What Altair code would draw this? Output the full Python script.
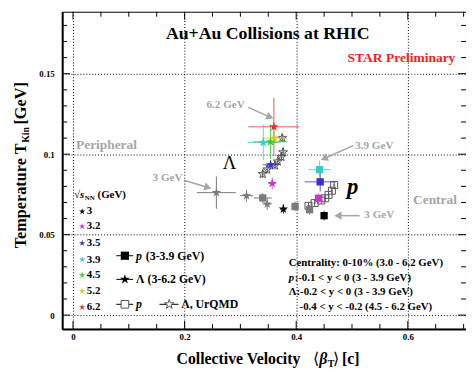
import altair as alt
import pandas as pd

# ---------------- data ----------------
# STAR protons, 0-10% (3, 3.2, 3.5, 3.9 GeV)
p_energy = ["3", "3.2", "3.5", "3.9"]
p_beta = [0.450, 0.440, 0.443, 0.442]
p_temp = [0.0618, 0.0726, 0.0828, 0.0904]
p_beta_err = [0.004, 0.006, 0.028, 0.020]
p_temp_err = [0.003, 0.003, 0.006, 0.0055]

# STAR Lambda, 0-10% (3 - 6.2 GeV)
l_energy = ["3", "3.2", "3.5", "3.9", "4.5", "5.2", "6.2"]
l_beta = [0.377, 0.357, 0.354, 0.341, 0.354, 0.361, 0.360]
l_temp = [0.0659, 0.0818, 0.0934, 0.1073, 0.1077, 0.1100, 0.1170]
l_beta_err = [0.006, 0.007, 0.014, 0.028, 0.030, 0.022, 0.046]
l_temp_err = [0.003, 0.0036, 0.003, 0.011, 0.0107, 0.004, 0.018]

# 3 GeV, other centralities (peripheral -> central), gray
gp_beta = [0.340, 0.398, 0.424]
gp_temp = [0.0728, 0.0675, 0.0655]
gp_beta_err = [0.016, 0.006, 0.006]
gp_temp_err = [0.003, 0.003, 0.003]
gl_beta = [0.257, 0.311, 0.348]
gl_temp = [0.0761, 0.0742, 0.0690]
gl_beta_err = [0.035, 0.012, 0.008]
gl_temp_err = [0.010, 0.0037, 0.0036]

# UrQMD
up_beta = [0.422, 0.433, 0.445, 0.452, 0.458, 0.464, 0.468]
up_temp = [0.0679, 0.0696, 0.0712, 0.0726, 0.0747, 0.0773, 0.0808]
ul_beta = [0.340, 0.348, 0.362, 0.367, 0.3735, 0.3765, 0.375]
ul_temp = [0.0877, 0.0905, 0.0930, 0.0955, 0.0983, 0.1012, 0.1100]

# axis ticks
x_major = [0, 0.2, 0.4, 0.6]
x_minor = [0.05, 0.1, 0.15, 0.25, 0.3, 0.35, 0.45, 0.5, 0.55, 0.65, 0.7]
y_major = [0, 0.05, 0.1, 0.15]
y_minor = [0.01, 0.02, 0.03, 0.04, 0.06, 0.07, 0.08, 0.09, 0.11, 0.12,
           0.13, 0.14, 0.16, 0.17, 0.18]

# ---------------- styles ----------------
energy_colors = {"3": "#000000", "3.2": "#cc33cc", "3.5": "#3333cc",
                 "3.9": "#33cccc", "4.5": "#33cc33", "5.2": "#cccc33",
                 "6.2": "#dd3333"}
GRAY = "#7a7a7a"
ANN = "#a6a6a6"
SERIF = "Liberation Serif"
STAR = ("M0,-1L0.225,-0.309L0.951,-0.309L0.363,0.118L0.588,0.809L0,0.382"
        "L-0.588,0.809L-0.363,0.118L-0.951,-0.309L-0.225,-0.309Z")
W, H = 410, 322

xs = alt.Scale(domain=[-0.0194, 0.7043], nice=False, zero=False)
ys = alt.Scale(domain=[-0.00857, 0.1885], nice=False, zero=False)

xaxis = alt.Axis(values=x_major, format="~g", title=None, ticks=False,
                 tickSize=0, labelFont=SERIF, labelFontWeight="bold",
                 labelFontSize=9, labelColor="black", labelPadding=4,
                 domainColor="black", domainWidth=2, grid=True,
                 gridColor="black", gridDash=[1, 2], gridWidth=1,
                 gridOpacity=1)
yaxis = alt.Axis(values=y_major, format="~g", title=None, ticks=False,
                 tickSize=0, labelFont=SERIF, labelFontWeight="bold",
                 labelFontSize=9, labelColor="black", labelPadding=8,
                 domainColor="black", domainWidth=2, grid=True,
                 gridColor="black", gridDash=[1, 2], gridWidth=1,
                 gridOpacity=1)


def X(f):
    return alt.X(f, type="quantitative", scale=xs, axis=xaxis)


def Y(f):
    return alt.Y(f, type="quantitative", scale=ys, axis=yaxis)


def frame(e, x, y, xe, ye, color):
    df = pd.DataFrame({"e": e, "x": x, "y": y, "xe": xe, "ye": ye})
    df["xlo"] = df.x - df.xe
    df["xhi"] = df.x + df.xe
    df["ylo"] = df.y - df.ye
    df["yhi"] = df.y + df.ye
    if color is None:
        df["color"] = df.e.map(energy_colors)
    else:
        df["color"] = color
    return df


sp = frame(p_energy, p_beta, p_temp, p_beta_err, p_temp_err, None)
sl = frame(l_energy, l_beta, l_temp, l_beta_err, l_temp_err, None)
gp = frame(["g"] * 3, gp_beta, gp_temp, gp_beta_err, gp_temp_err, GRAY)
gl = frame(["g"] * 3, gl_beta, gl_temp, gl_beta_err, gl_temp_err, GRAY)
up = frame(["u"] * 7, up_beta, up_temp, [0.002] * 7, [0.002] * 7, "#555555")
ul = frame(["u"] * 7, ul_beta, ul_temp, [0.002] * 7, [0.0025] * 7, "#555555")

layers = []


# inward ticks on all four sides
def ticks(vals, length, side):
    df = pd.DataFrame({"v": vals})
    c = alt.Chart(df).mark_rule(color="black", strokeWidth=1)
    if side == "bottom":
        return c.encode(x=X("v"), y=alt.value(H), y2=alt.value(H - length))
    if side == "top":
        return c.encode(x=X("v"), y=alt.value(0), y2=alt.value(length))
    if side == "left":
        return c.encode(y=Y("v"), x=alt.value(0), x2=alt.value(length))
    return c.encode(y=Y("v"), x=alt.value(W), x2=alt.value(W - length))


for side in ["bottom", "top"]:
    layers.append(ticks(x_major, 8, side))
    layers.append(ticks(x_minor, 5, side))
for side in ["left", "right"]:
    layers.append(ticks(y_major, 8, side))
    layers.append(ticks(y_minor, 5, side))


def errbars(df, width=1, opacity=1.0):
    c = alt.Chart(df)
    h = c.mark_rule(strokeWidth=width, opacity=opacity).encode(
        x=X("xlo"), x2=alt.X2("xhi"), y=Y("y"),
        color=alt.Color("color:N", scale=None))
    v = c.mark_rule(strokeWidth=width, opacity=opacity).encode(
        y=Y("ylo"), y2=alt.Y2("yhi"), x=X("x"),
        color=alt.Color("color:N", scale=None))
    return [h, v]


# UrQMD
layers += errbars(up)
layers += errbars(ul)
layers.append(alt.Chart(up).mark_point(shape="square", size=50, filled=False,
                                       strokeWidth=1, color="#555555",
                                       opacity=1).encode(x=X("x"), y=Y("y")))
layers.append(alt.Chart(ul).mark_point(shape=STAR, size=90, filled=False,
                                       strokeWidth=1, color="#555555",
                                       opacity=1).encode(x=X("x"), y=Y("y")))
# gray (other centralities at 3 GeV)
layers += errbars(gp)
layers += errbars(gl)
layers.append(alt.Chart(gp).mark_point(shape="square", size=55, filled=True,
                                       color=GRAY, opacity=1).encode(
    x=X("x"), y=Y("y")))
layers.append(alt.Chart(gl).mark_point(shape=STAR, size=100, filled=True,
                                       color=GRAY, opacity=1).encode(
    x=X("x"), y=Y("y")))
# STAR data
layers += errbars(sp, 1, 0.8)
layers += errbars(sl, 1, 0.8)
layers.append(alt.Chart(sp).mark_point(shape="square", size=55, filled=True,
                                       opacity=1).encode(
    x=X("x"), y=Y("y"), color=alt.Color("color:N", scale=None)))
layers.append(alt.Chart(sl).mark_point(shape=STAR, size=100, filled=True,
                                       opacity=1).encode(
    x=X("x"), y=Y("y"), color=alt.Color("color:N", scale=None)))

# ---------------- arrows ----------------
arrows = pd.DataFrame({
    "x": [0.3142, 0.502, 0.199, 0.5137],
    "y": [0.1291, 0.1053, 0.0838, 0.0618],
    "x2": [0.353, 0.450, 0.2418, 0.4748],
    "y2": [0.1230, 0.0973, 0.0793, 0.0618],
    "ang": [114, 246, 107, 270],
})
layers.append(alt.Chart(arrows).mark_rule(color=ANN, strokeWidth=1.5).encode(
    x=X("x"), y=Y("y"), x2=alt.X2("x2"), y2=alt.Y2("y2")))
layers.append(alt.Chart(arrows).mark_point(shape="triangle-up", size=70,
                                           filled=True, color=ANN,
                                           opacity=1).encode(
    x=X("x2"), y=Y("y2"), angle=alt.Angle("ang:Q", scale=None)))


def txt(rows, **kw):
    df = pd.DataFrame(rows, columns=["x", "y", "t"])
    base = dict(font=SERIF, fontWeight="bold", baseline="middle")
    base.update(kw)
    return alt.Chart(df).mark_text(**base).encode(x=X("x"), y=Y("y"),
                                                  text="t:N")


layers.append(txt([(0.349, 0.1744, "Au+Au Collisions at RHIC")],
                  fontSize=18, color="black", align="center"))
layers.append(txt([(0.5887, 0.1597, "STAR Preliminary")], fontSize=13.7,
                  color="#ee2222", align="center"))
layers.append(txt([(0.2736, 0.1304, "6.2 GeV"), (0.540, 0.1053, "3.9 GeV"),
                   (0.1695, 0.0851, "3 GeV"), (0.549, 0.0620, "3 GeV")],
                  fontSize=11.3, color=ANN, align="center"))
layers.append(txt([(0.060, 0.1059, "Peripheral"), (0.6487, 0.0716, "Central")],
                  fontSize=13.6, color=ANN, align="center"))
layers.append(txt([(0.2807, 0.0944, "Λ")], fontSize=19, fontWeight="normal",
                  color="black", align="center"))
layers.append(txt([(0.5013, 0.0797, "p")], fontSize=23, fontStyle="italic",
                  color="black", align="center"))
# centrality / rapidity block
layers.append(txt([(0.3866, 0.0324, "Centrality: 0-10% (3.0 - 6.2 GeV)"),
                   (0.3972, 0.0231, ":-0.1 < y < 0 (3 - 3.9 GeV)"),
                   (0.3866, 0.0145, "Λ:-0.2 < y < 0 (3 - 3.9 GeV)"),
                   (0.406, 0.0047, "-0.4 < y < -0.2 (4.5 - 6.2 GeV)")],
                  fontSize=11, color="black", align="left"))
layers.append(txt([(0.3866, 0.0231, "p")], fontSize=11, fontStyle="italic",
                  color="black", align="left"))

# ---------------- legend 1: energies ----------------
leg1 = pd.DataFrame({
    "e": l_energy,
    "x": [0.0164] * 7,
    "xt": [0.0247] * 7,
    "y": [0.0644, 0.0551, 0.0447, 0.0345, 0.0247, 0.0149, 0.0049],
})
leg1["color"] = leg1.e.map(energy_colors)
layers.append(alt.Chart(leg1).mark_point(shape=STAR, size=45, filled=True,
                                         opacity=1).encode(
    x=X("x"), y=Y("y"), color=alt.Color("color:N", scale=None)))
layers.append(alt.Chart(leg1).mark_text(font=SERIF, fontWeight="bold",
                                        fontSize=11, align="left",
                                        baseline="middle",
                                        color="black").encode(
    x=X("xt"), y=Y("y"), text="e:N"))
layers.append(txt([(0.0018, 0.0747, "√s")], fontSize=11, color="black",
                  align="left", fontStyle="italic"))
layers.append(txt([(0.0210, 0.0727, "NN")], fontSize=7, color="black",
                  align="left"))
layers.append(txt([(0.0440, 0.0747, "(GeV)")], fontSize=11, color="black",
                  align="left"))

# ---------------- legend 2: species ----------------
leg2_lines = pd.DataFrame({"x": [0.0777, 0.0777, 0.0777, 0.155],
                           "x2": [0.1077, 0.1077, 0.1077, 0.189],
                           "y": [0.0369, 0.0222, 0.0067, 0.0067]})
layers.append(alt.Chart(leg2_lines).mark_rule(color="black").encode(
    x=X("x"), x2=alt.X2("x2"), y=Y("y")))
leg2_sq = pd.DataFrame({"x": [0.093], "y": [0.0369]})
layers.append(alt.Chart(leg2_sq).mark_point(shape="square", size=70,
                                            filled=True, color="black",
                                            opacity=1).encode(
    x=X("x"), y=Y("y")))
leg2_st = pd.DataFrame({"x": [0.093], "y": [0.0222]})
layers.append(alt.Chart(leg2_st).mark_point(shape=STAR, size=110,
                                            filled=True, color="black",
                                            opacity=1).encode(
    x=X("x"), y=Y("y")))
leg2_osq = pd.DataFrame({"x": [0.093], "y": [0.0067]})
layers.append(alt.Chart(leg2_osq).mark_point(shape="square", size=60,
                                             filled=False, fill="white",
                                             color="#555555", opacity=1,
                                             strokeWidth=1).encode(
    x=X("x"), y=Y("y")))
leg2_ost = pd.DataFrame({"x": [0.1725], "y": [0.0067]})
layers.append(alt.Chart(leg2_ost).mark_point(shape=STAR, size=100,
                                             filled=False, fill="white",
                                             color="#555555", opacity=1,
                                             strokeWidth=1).encode(
    x=X("x"), y=Y("y")))
layers.append(txt([(0.113, 0.0369, "p"), (0.113, 0.0067, "p")], fontSize=12,
                  fontStyle="italic", color="black", align="left"))
layers.append(txt([(0.1305, 0.0369, "(3-3.9 GeV)"),
                   (0.113, 0.0222, "Λ (3-6.2 GeV)"),
                   (0.194, 0.0067, "Λ, UrQMD")], fontSize=12,
                  color="black", align="left"))


# ---------------- axis titles (outside plot area) ----------------
def ptxt(t, px, py, **kw):
    df = pd.DataFrame({"t": [t]})
    base = dict(font=SERIF, fontWeight="bold", baseline="middle",
                align="center", color="black")
    base.update(kw)
    return alt.Chart(df).mark_text(**base).encode(
        x=alt.value(px), y=alt.value(py), text="t:N")


layers.append(ptxt("Temperature T", -42, 187, fontSize=16.5, angle=270))
layers.append(ptxt("Kin", -37, 125, fontSize=10, angle=270))
layers.append(ptxt("[GeV]", -42, 93, fontSize=16.5, angle=270))
layers.append(ptxt("Collective Velocity", 179, 352.7, fontSize=16))
layers.append(ptxt("⟨", 258, 352.7, fontSize=16, fontWeight="normal"))
layers.append(ptxt("β", 265, 352.7, fontSize=16, fontStyle="italic"))
layers.append(ptxt("T", 273, 358, fontSize=10))
layers.append(ptxt("⟩", 278.5, 352.7, fontSize=16, fontWeight="normal"))
layers.append(ptxt("[c]", 293, 352.7, fontSize=16))

chart = alt.layer(*layers).properties(
    width=W, height=H,
    autosize=alt.AutoSizeParams(type="none"),
    padding={"left": 55, "top": 1, "right": 0, "bottom": 44},
    background="white",
).configure_view(stroke="black", strokeWidth=1)

chart.save("out.html", embed_options={"renderer": "svg", "actions": False})
